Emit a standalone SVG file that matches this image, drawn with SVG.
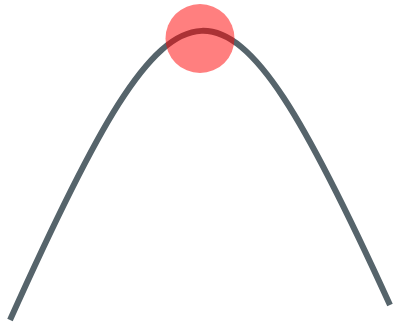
<svg xmlns="http://www.w3.org/2000/svg" width="398" height="327" viewBox="0 0 398 327">
<style>
.curve{fill:none;stroke:#56646b;stroke-width:6}
.dot{fill:#ff0000;fill-opacity:0.5}
</style>
<rect width="398" height="327" fill="#ffffff"/>
<g id="connectors">
<path class="curve" d="M10,320 C182,-63 222,-63 390,305"/>
</g>
<g id="marker-dot">
<circle class="dot" cx="200" cy="38.5" r="34.5"/>
</g>
</svg>
